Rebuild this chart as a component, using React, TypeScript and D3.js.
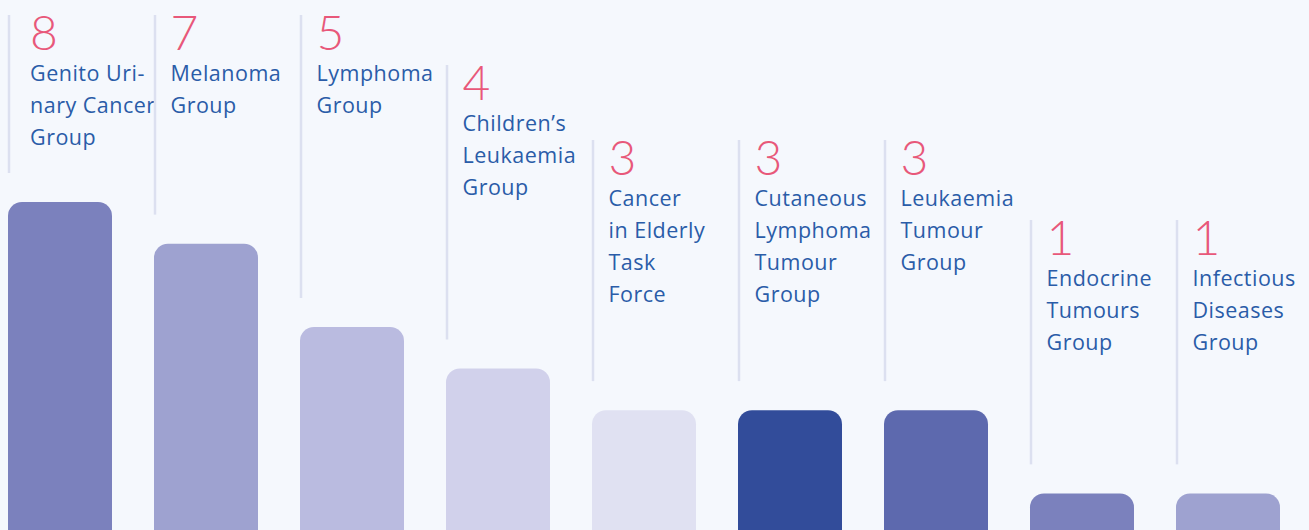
import React from "react";
import * as d3 from "d3";

const categories: string[][] = [
  ["Genito Uri-", "nary Cancer", "Group"],
  ["Melanoma", "Group"],
  ["Lymphoma", "Group"],
  ["Children’s", "Leukaemia", "Group"],
  ["Cancer", "in Elderly", "Task", "Force"],
  ["Cutaneous", "Lymphoma", "Tumour", "Group"],
  ["Leukaemia", "Tumour", "Group"],
  ["Endocrine", "Tumours", "Group"],
  ["Infectious", "Diseases", "Group"],
];
const values: number[] = [8, 7, 5, 4, 3, 3, 3, 1, 1];
const barColors: string[] = [
  "#7b81bd", "#9ea2d0", "#babbe0", "#d1d1eb", "#e0e1f2",
  "#324c9a", "#5d69ae", "#7b81bd", "#9ea2d0",
];

// layout: top of each label block (leader line start)
const labelTops = [15, 15, 15, 65, 140, 140, 140, 220, 220];

const W = 1309;
const H = 530;

export default function App() {
  const x = d3
    .scaleBand<number>()
    .domain(values.map((_, i) => i))
    .range([8, 8 + 146 * 8 + 104])
    .paddingInner(42 / 146)
    .paddingOuter(0)
    .align(0);
  const y = d3.scaleLinear().domain([0, 8]).range([535, 202]);

  return (
    <div style={{ position: "fixed", left: 0, top: 0, width: W, height: H }}>
      <svg width={W} height={H} style={{ display: "block", background: "#f5f8fd" }}>
        {values.map((v, i) => {
          const bx = x(i)!;
          const top = y(v);
          const lt = labelTops[i];
          const pad = i === 0 ? 22 : 16.5;
          return (
            <g key={i}>
              <line
                x1={bx + 1}
                x2={bx + 1}
                y1={lt}
                y2={top - 29}
                stroke="#dce0f0"
                strokeWidth={2.5}
              />
              <rect
                x={bx}
                y={top}
                width={x.bandwidth()}
                height={560 - top}
                rx={14}
                ry={14}
                fill={barColors[i]}
              />
              <text
                x={bx + pad}
                y={lt + 35}
                fill="#e8587a"
                fontFamily="Lato, 'Open Sans', sans-serif"
                fontWeight={300}
                fontSize={48}
              >
                {v}
              </text>
              {categories[i].map((line, k) => (
                <text
                  key={k}
                  x={bx + pad}
                  y={lt + 66 + 32 * k}
                  fill="#2a5ca8"
                  fontFamily="'Open Sans', sans-serif"
                  fontSize={21.5}
                  letterSpacing={0.5}
                >
                  {line}
                </text>
              ))}
            </g>
          );
        })}
      </svg>
    </div>
  );
}
